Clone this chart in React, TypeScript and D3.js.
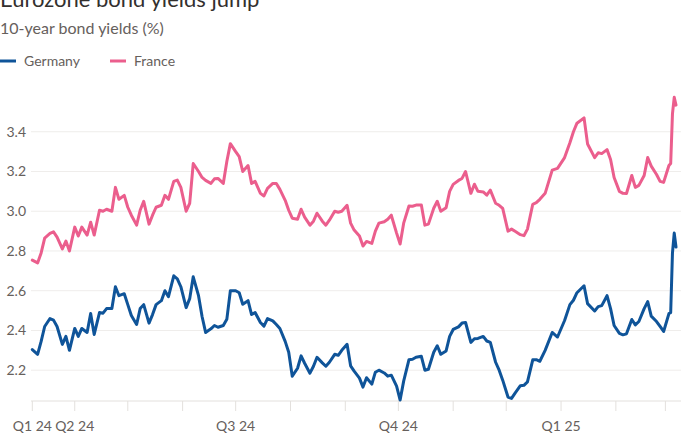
import React from "react";
import * as d3 from "d3";

// Sample dates (Mon/Wed/Fri-ish trading days), grouped by month
const sampleDays: [string, number[]][] = [
  ["2024-03", [8, 11, 13, 15, 18, 20, 22, 25, 27, 29]],
  ["2024-04", [1, 3, 5, 8, 10, 12, 15, 17, 19, 22, 24, 26, 29]],
  ["2024-05", [1, 3, 6, 8, 10, 13, 15, 17, 20, 22, 24, 27, 29, 31]],
  ["2024-06", [3, 5, 7, 10, 12, 14, 17, 19, 21, 24, 26, 28]],
  ["2024-07", [1, 3, 5, 8, 10, 12, 15, 17, 19, 22, 24, 26, 29, 31]],
  ["2024-08", [2, 5, 7, 9, 12, 14, 16, 19, 21, 23, 26, 28, 30]],
  ["2024-09", [2, 4, 6, 9, 11, 13, 16, 18, 20, 23, 25, 27, 30]],
  ["2024-10", [2, 4, 7, 9, 11, 14, 16, 18, 21, 23, 25, 28, 30]],
  ["2024-11", [1, 4, 6, 8, 11, 13, 15, 18, 20, 22, 25, 27, 29]],
  ["2024-12", [2, 4, 6, 9, 11, 13, 16, 18, 20, 23, 27, 30]],
  ["2025-01", [3, 6, 8, 10, 14, 16, 20, 22, 24, 27, 29, 31]],
  ["2025-02", [3, 5, 7, 10, 12, 14, 17, 19, 21, 24, 26, 28]],
  ["2025-03", [3, 4, 5, 6, 7]],
];

const germany: number[] = [
  // Mar 24
  2.304, 2.28, 2.345, 2.42, 2.46, 2.452, 2.42, 2.33, 2.37, 2.30,
  // Apr
  2.41, 2.37, 2.41, 2.39, 2.485, 2.38, 2.49, 2.487, 2.51, 2.51, 2.62, 2.575, 2.585,
  // May
  2.53, 2.475, 2.43, 2.51, 2.53, 2.437, 2.48, 2.53, 2.55, 2.60, 2.57, 2.675, 2.66, 2.62,
  // Jun
  2.515, 2.56, 2.67, 2.575, 2.47, 2.39, 2.408, 2.425, 2.416, 2.425, 2.456, 2.60,
  // Jul
  2.60, 2.59, 2.532, 2.55, 2.48, 2.49, 2.44, 2.422, 2.46, 2.448, 2.43, 2.41, 2.345, 2.29,
  // Aug
  2.17, 2.21, 2.272, 2.235, 2.185, 2.22, 2.265, 2.237, 2.22, 2.24, 2.28, 2.275, 2.30,
  // Sep
  2.33, 2.222, 2.195, 2.16, 2.115, 2.162, 2.13, 2.19, 2.20, 2.186, 2.17, 2.175, 2.12,
  // Oct
  2.05, 2.145, 2.253, 2.255, 2.265, 2.27, 2.20, 2.205, 2.29, 2.323, 2.28, 2.297, 2.37,
  // Nov
  2.405, 2.418, 2.437, 2.44, 2.34, 2.358, 2.36, 2.37, 2.347, 2.34, 2.24, 2.20, 2.15,
  // Dec
  2.065, 2.058, 2.085, 2.122, 2.124, 2.141, 2.252, 2.253, 2.245, 2.30, 2.39, 2.367,
  // Jan 25
  2.45, 2.53, 2.552, 2.59, 2.625, 2.535, 2.498, 2.52, 2.525, 2.575, 2.51, 2.425,
  // Feb
  2.385, 2.378, 2.383, 2.455, 2.428, 2.445, 2.51, 2.545, 2.472, 2.445, 2.42, 2.395,
  // Mar
  2.485, 2.49, 2.79, 2.89, 2.82,
];

const france: number[] = [
  // Mar 24
  2.754, 2.74, 2.79, 2.865, 2.888, 2.896, 2.87, 2.81, 2.85, 2.80,
  // Apr
  2.92, 2.875, 2.92, 2.88, 2.945, 2.88, 3.005, 3.0, 3.01, 3.0, 3.12, 3.06, 3.08,
  // May
  3.02, 2.98, 2.93, 3.005, 3.05, 2.935, 2.98, 3.02, 3.03, 3.08, 3.06, 3.15, 3.157, 3.12,
  // Jun
  3.0, 3.04, 3.24, 3.20, 3.17, 3.155, 3.14, 3.163, 3.165, 3.14, 3.25, 3.34,
  // Jul
  3.30, 3.275, 3.2, 3.23, 3.14, 3.15, 3.09, 3.077, 3.115, 3.14, 3.14, 3.11, 3.055, 3.005,
  // Aug
  2.965, 2.96, 3.01, 2.97, 2.93, 2.95, 2.99, 2.95, 2.93, 2.955, 3.0, 2.995, 3.0,
  // Sep
  3.03, 2.94, 2.905, 2.875, 2.825, 2.848, 2.838, 2.90, 2.94, 2.947, 2.96, 2.98, 2.89,
  // Oct
  2.835, 2.94, 3.026, 3.025, 3.031, 3.031, 2.93, 2.935, 3.015, 3.05, 3.0, 3.018, 3.10,
  // Nov
  3.135, 3.155, 3.165, 3.20, 3.09, 3.136, 3.10, 3.097, 3.081, 3.106, 3.04, 3.03, 3.014,
  // Dec
  2.90, 2.91, 2.899, 2.882, 2.877, 2.91, 3.035, 3.043, 3.06, 3.09, 3.207, 3.216,
  // Jan 25
  3.27, 3.345, 3.40, 3.443, 3.47, 3.338, 3.27, 3.294, 3.29, 3.31, 3.26, 3.17,
  // Feb
  3.10, 3.09, 3.089, 3.18, 3.12, 3.13, 3.18, 3.27, 3.227, 3.185, 3.15, 3.145,
  // Mar
  3.23, 3.24, 3.49, 3.573, 3.534,
];

const yTicks = [2.2, 2.4, 2.6, 2.8, 3.0, 3.2, 3.4];
const quarterTicks: [string, string][] = [
  ["2024-03-08", "Q1 24"],
  ["2024-04-01", "Q2 24"],
  ["2024-07-01", "Q3 24"],
  ["2024-10-01", "Q4 24"],
  ["2025-01-01", "Q1 25"],
];

const title = "Eurozone bond yields jump";
const subtitle = "10-year bond yields (%)";
const seriesNames = ["Germany", "France"];
const colors = ["#0f5499", "#eb5e8d"];

const FONT = "Lato, 'Noto Sans', sans-serif";
const GREY = "#66605c";

export default function App() {
  const W = 700;
  const H = 445;
  const parse = d3.timeParse("%Y-%m-%d");
  const dates = sampleDays.flatMap(([m, ds]) =>
    ds.map((d) => parse(`${m}-${String(d).padStart(2, "0")}`) as Date)
  );

  const x = d3
    .scaleTime()
    .domain([dates[0], dates[dates.length - 1]])
    .range([32.3, 676]);
  const y = d3.scaleLinear().domain([2.045, 3.6]).range([401, 92]);

  const monthTicks = d3.timeMonth.range(
    parse("2024-04-01") as Date,
    parse("2025-03-02") as Date
  );
  const allTicks = [dates[0], ...monthTicks];

  const line = d3
    .line<number>()
    .x((_, i) => x(dates[i]))
    .y((v) => y(v));

  const series = [germany, france];

  return (
    <svg
      width={W}
      height={H}
      style={{ position: "absolute", left: 0, top: 0, background: "#fff" }}
      fontFamily={FONT}
    >
      <rect width={W} height={H} fill="#fff" />
      <text x={0} y={6.5} fontSize={22} fill="#33302e">
        {title}
      </text>
      <text x={0} y={34} fontSize={16} fill={GREY}>
        {subtitle}
      </text>

      {/* legend */}
      {seriesNames.map((name, i) => {
        const lx = i === 0 ? 0 : 110;
        return (
          <g key={name}>
            <line
              x1={lx}
              x2={lx + 16}
              y1={61}
              y2={61}
              stroke={colors[i]}
              strokeWidth={3}
            />
            <text x={lx + 24} y={66} fontSize={14} fill={GREY}>
              {name}
            </text>
          </g>
        );
      })}

      {/* gridlines */}
      {yTicks.map((t) => (
        <g key={t}>
          <line
            x1={31}
            x2={681}
            y1={y(t)}
            y2={y(t)}
            stroke="#efedeb"
            strokeWidth={1}
          />
          <text
            x={26}
            y={y(t)}
            dy="0.35em"
            textAnchor="end"
            fontSize={14}
            fill={GREY}
          >
            {t.toFixed(1)}
          </text>
        </g>
      ))}

      {/* x axis */}
      <line x1={31} x2={681} y1={401} y2={401} stroke="#e3e0dd" strokeWidth={1} />
      {allTicks.map((t, i) => (
        <line
          key={i}
          x1={x(t)}
          x2={x(t)}
          y1={401}
          y2={411}
          stroke="#e3e0dd"
          strokeWidth={1}
        />
      ))}
      {quarterTicks.map(([d, label]) => (
        <text
          key={label}
          x={x(parse(d) as Date)}
          y={430.5}
          textAnchor="middle"
          fontSize={14}
          fill={GREY}
        >
          {label}
        </text>
      ))}

      {/* lines */}
      {series.map((s, i) => (
        <path
          key={i}
          d={line(s) || ""}
          fill="none"
          stroke={colors[i]}
          strokeWidth={3}
          strokeLinejoin="round"
          strokeLinecap="round"
        />
      ))}
    </svg>
  );
}
